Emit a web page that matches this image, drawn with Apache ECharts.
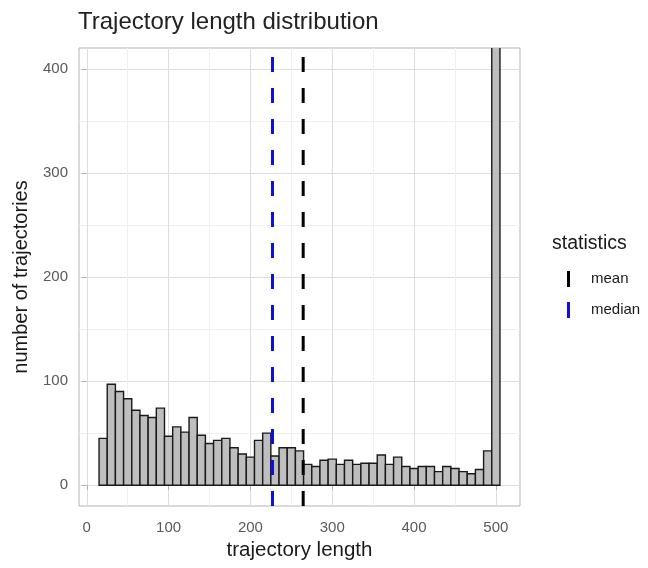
<!DOCTYPE html>
<html>
<head>
<meta charset="utf-8">
<script src="https://cdn.jsdelivr.net/npm/echarts@6/dist/echarts.min.js"></script>
<style>html,body{margin:0;padding:0;background:#fff;}#chart{width:648px;height:568px;}</style>
</head>
<body>
<div id="chart"></div>
<script>
// ---- data ----
const binCenters = [20,30,40,50,60,70,80,90,100,110,120,130,140,150,160,170,180,190,200,210,220,230,240,250,260,270,280,290,300,310,320,330,340,350,360,370,380,390,400,410,420,430,440,450,460,470,480,490,500];
const counts = [45,97,90,83,72,67,65,74,47,56,51,65,48,40,43,45,36,30,27,43,50,28,36,36,33,20,18,24,25,20,24,20,21,21,29,20,27,18,16,18,18,13,18,16,13,11,15,33,1100];
const binWidth = 10;
const meanValue = 264.5;
const medianValue = 227;
const xTicks = [0,100,200,300,400,500];
const xMinor = [50,150,250,350,450];
const yTicks = [0,100,200,300,400];
const yMinor = [50,150,250,350];
const xRange = [-9.5, 529.5];
const yRange = [-20, 420];

const FONT = "'Liberation Sans', Arial, sans-serif";
const chart = echarts.init(document.getElementById('chart'), null, {renderer: 'canvas'});

const histData = binCenters.map((c, i) => [c, counts[i]]);

function xAxisBase(ticks, major) {
  return {
    type: 'value', min: xRange[0], max: xRange[1], gridIndex: 0,
    axisLine: {show: false},
    axisTick: {show: major, customValues: ticks, length: 5, lineStyle: {color: '#b3b3b3', width: 1}},
    axisLabel: {show: major, customValues: ticks, color: '#5a5a5a', fontSize: 15, fontFamily: FONT, margin: 14},
    splitLine: {show: true, lineStyle: {color: major ? '#dedede' : '#efefef', width: 1}},
    minorTick: {show: false}, minorSplitLine: {show: false}
  };
}
function yAxisBase(ticks, major) {
  return {
    type: 'value', min: yRange[0], max: yRange[1], gridIndex: 0, position: 'left',
    axisLine: {show: false},
    axisTick: {show: major, customValues: ticks, length: 5, lineStyle: {color: '#b3b3b3', width: 1}},
    axisLabel: {show: major, customValues: ticks, color: '#5a5a5a', fontSize: 15, fontFamily: FONT, margin: 11},
    splitLine: {show: true, lineStyle: {color: major ? '#dedede' : '#efefef', width: 1}},
    minorTick: {show: false}, minorSplitLine: {show: false}
  };
}

const xMaj = xAxisBase(xTicks, true);
xMaj.name = 'trajectory length';
xMaj.nameLocation = 'middle';
xMaj.nameGap = 34;
xMaj.nameTextStyle = {color: '#1a1a1a', fontSize: 20.5, fontFamily: FONT};
const yMaj = yAxisBase(yTicks, true);
yMaj.name = 'number of trajectories';
yMaj.nameLocation = 'middle';
yMaj.nameGap = 48;
yMaj.nameTextStyle = {color: '#1a1a1a', fontSize: 20, fontFamily: FONT};

const option = {
  backgroundColor: '#ffffff',
  animation: false,
  textStyle: {fontFamily: FONT},
  title: [
    {text: 'Trajectory length distribution', left: 78, top: 10, padding: 0,
     textStyle: {fontSize: 24, fontWeight: 'normal', color: '#222222', fontFamily: FONT}},
    {text: 'statistics', left: 552, top: 234, padding: 0,
     textStyle: {fontSize: 19.5, fontWeight: 'normal', color: '#1a1a1a', fontFamily: FONT}}
  ],
  grid: {left: 79, top: 48, right: 128, bottom: 62, show: true, borderColor: '#b3b3b3', borderWidth: 1, backgroundColor: 'transparent', containLabel: false},
  legend: {
    orient: 'vertical', left: 567, top: 271, padding: 0,
    itemWidth: 3, itemHeight: 16, itemGap: 15,
    textStyle: {color: '#1a1a1a', fontSize: 15, fontFamily: FONT, padding: [0, 0, 0, 16]},
    data: [{name: 'mean', icon: 'rect'}, {name: 'median', icon: 'rect'}]
  },
  xAxis: [xMaj, xAxisBase(xMinor, false)],
  yAxis: [yMaj, yAxisBase(yMinor, false)],
  series: [
    {
      type: 'custom', name: 'hist', xAxisIndex: 0, yAxisIndex: 0, clip: true,
      data: histData,
      encode: {x: 0, y: 1},
      renderItem: function (params, api) {
        const c = api.value(0), v = api.value(1);
        const p0 = api.coord([c - binWidth / 2, 0]);
        const p1 = api.coord([c + binWidth / 2, v]);
        return {
          type: 'rect',
          shape: {x: p0[0], y: p1[1], width: p1[0] - p0[0], height: p0[1] - p1[1]},
          style: {fill: '#bebebe', stroke: '#1a1a1a', lineWidth: 1.4}
        };
      },
      z: 3
    },
    {
      type: 'line', name: 'mean', xAxisIndex: 0, yAxisIndex: 0, color: '#000000',
      data: [[meanValue, yRange[0]], [meanValue, yRange[1]]],
      symbol: 'none', silent: true,
      lineStyle: {color: '#000000', width: 3, type: [15, 16]}, z: 5
    },
    {
      type: 'line', name: 'median', xAxisIndex: 0, yAxisIndex: 0, color: '#1010d0',
      data: [[medianValue, yRange[0]], [medianValue, yRange[1]]],
      symbol: 'none', silent: true,
      lineStyle: {color: '#1010d0', width: 3, type: [15, 16]}, z: 5
    }
  ]
};
chart.setOption(option);
</script>
</body>
</html>
